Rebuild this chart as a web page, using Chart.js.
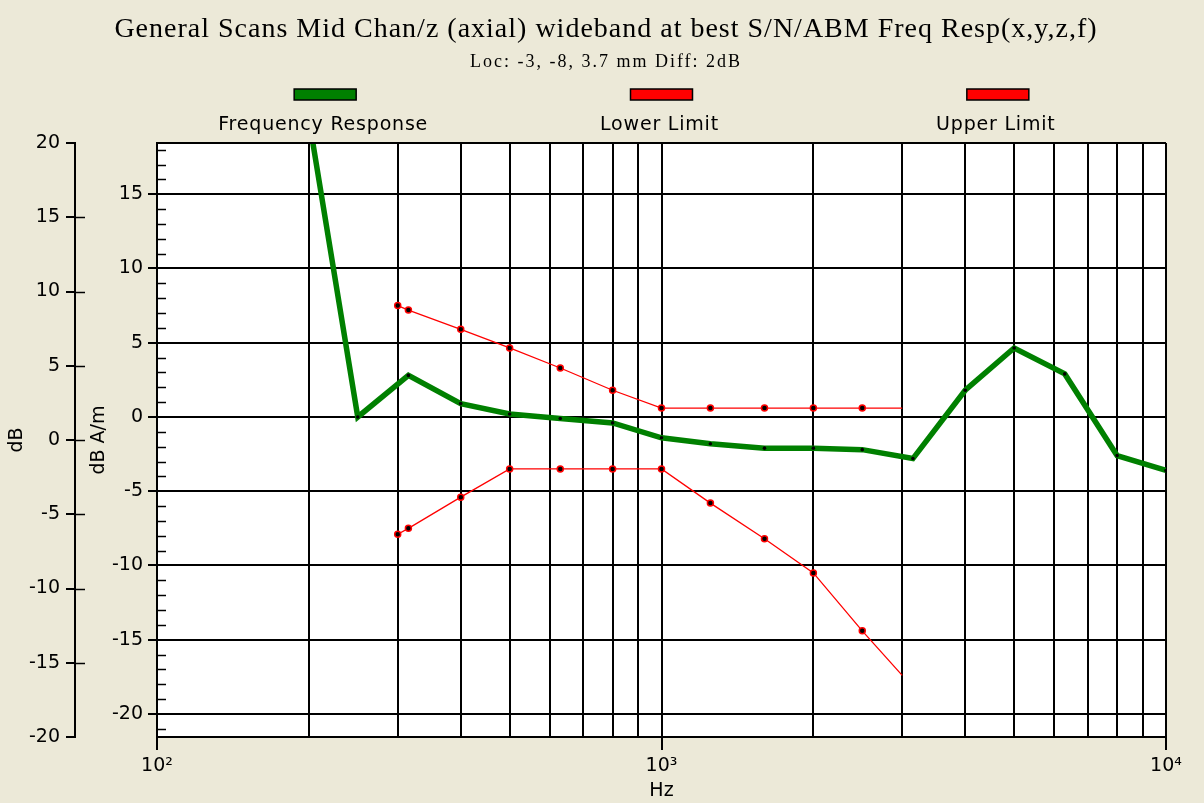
<!DOCTYPE html>
<html>
<head>
<meta charset="utf-8">
<title>Freq Resp</title>
<script src="https://cdn.jsdelivr.net/npm/chart.js@4.4.0/dist/chart.umd.min.js"></script>
<style>
    body { margin: 0; background: #ECE9D8; }
    #box { width: 1204px; height: 803px; }
</style>
</head>
<body>
<div id="box"><canvas id="graficoResp"></canvas></div>
<script>
// frequency response, measured points (Hz / dB A/m)
const respFreq = [200, 250, 315, 400, 500, 630, 800, 1000, 1250, 1600, 2000, 2500, 3150, 4000, 5000, 6300, 8000, 10000];
const respDb = [20.1, 0.0, 2.8, 0.9, 0.2, -0.1, -0.4, -1.4, -1.8, -2.1, -2.1, -2.2, -2.8, 1.8, 4.65, 2.9, -2.6, -3.6];

// limit lines
const limitFreq = [300, 315, 400, 500, 630, 800, 1000, 1250, 1600, 2000, 2500, 3000];
const lowerDb = [-7.9, -7.5, -5.4, -3.5, -3.5, -3.5, -3.5, -5.8, -8.2, -10.5, -14.4, -17.4];
const upperDb = [7.5, 7.2, 5.9, 4.65, 3.3, 1.8, 0.6, 0.6, 0.6, 0.6, 0.6, 0.6];

// axis ticks
const freqTicks = [100, 200, 300, 400, 500, 600, 700, 800, 900, 1000, 2000, 3000, 4000, 5000, 6000, 7000, 8000, 9000, 10000];
const dbTicks = [-20, -15, -10, -5, 0, 5, 10, 15, 20];
const decadeLabels = { 100: '10²', 1000: '10³', 10000: '10⁴' };

const titulo = 'General Scans Mid Chan/z (axial) wideband at best S/N/ABM Freq Resp(x,y,z,f)';
const subtitulo = 'Loc: -3, -8, 3.7 mm Diff: 2dB';

const sans = 'DejaVu Sans';

function pontos(xs, ys) {
    let lista = [];
    for (let i = 0; i < xs.length; i++) {
        lista.push({ x: xs[i], y: ys[i] });
    }
    return lista;
}

function ehDecada(v) {
    return decadeLabels[v] !== undefined;
}

// no marker on the last point of a limit line
const limitRadius = limitFreq.map((f, i) => i == limitFreq.length - 1 ? 0 : 3);

// background, titles, extra ticks, frame and the legend
const extras = {
    id: 'extras',
    beforeDraw(chart) {
        const ctx = chart.ctx;
        const a = chart.chartArea;
        ctx.save();
        ctx.fillStyle = '#ECE9D8';
        ctx.fillRect(0, 0, chart.width, chart.height);
        ctx.fillStyle = '#ffffff';
        ctx.fillRect(a.left, a.top, a.right - a.left, a.bottom - a.top);
        ctx.restore();
    },
    afterDraw(chart) {
        const ctx = chart.ctx;
        const a = chart.chartArea;
        const yIn = chart.scales.y;
        const yOut = chart.scales.y2;
        ctx.save();
        ctx.strokeStyle = '#000';
        ctx.lineWidth = 2;

        // top frame line
        ctx.beginPath();
        ctx.moveTo(a.left, a.top);
        ctx.lineTo(a.right, a.top);
        ctx.stroke();

        // minor ticks of dB A/m go inside the plot
        ctx.lineWidth = 1.5;
        yIn.ticks.forEach(t => {
            if (t.value % 5 != 0) {
                const py = Math.round(yIn.getPixelForValue(t.value)) + 0.5;
                ctx.beginPath();
                ctx.moveTo(a.left, py);
                ctx.lineTo(a.left + 9, py);
                ctx.stroke();
            }
        });

        // dB ticks cross the axis line
        yOut.ticks.forEach(t => {
            if (t.value > yOut.min && t.value < yOut.max) {
                const py = Math.round(yOut.getPixelForValue(t.value)) + 0.5;
                ctx.beginPath();
                ctx.moveTo(yOut.right, py);
                ctx.lineTo(yOut.right + 10, py);
                ctx.stroke();
            }
        });

        // titles
        ctx.fillStyle = '#000';
        ctx.textAlign = 'center';
        ctx.textBaseline = 'middle';
        ctx.font = '28px "Liberation Serif"';
        ctx.letterSpacing = '1px';
        ctx.fillText(titulo, 606, 30);
        ctx.font = '18px "Liberation Serif"';
        ctx.letterSpacing = '2px';
        ctx.fillText(subtitulo, 606, 62);

        // legend: swatch above the label
        const largura = (a.right - a.left) / 3;
        ctx.font = '19px "' + sans + '"';
        ctx.letterSpacing = '0.8px';
        chart.data.datasets.forEach((ds, i) => {
            const cx = a.left + largura * (i + 0.5);
            ctx.fillStyle = ds.borderColor;
            ctx.fillRect(cx - 31, 89, 62, 11);
            ctx.lineWidth = 1.5;
            ctx.strokeStyle = '#000';
            ctx.strokeRect(cx - 31, 89, 62, 11);
            ctx.fillStyle = '#000';
            ctx.fillText(ds.label, cx - 2, 125);
        });
        ctx.restore();
    }
};

Chart.defaults.color = '#000';
Chart.defaults.font.family = sans;

const config = {
    type: 'line',
    data: {
        datasets: [{
            label: 'Frequency Response',
            data: pontos(respFreq, respDb),
            borderColor: '#008000',
            borderWidth: 5.5,
            pointRadius: 1.8,
            pointBackgroundColor: '#000',
            pointBorderWidth: 0,
            clip: 0,
            order: 0
        },
        {
            label: 'Lower Limit',
            data: pontos(limitFreq, lowerDb),
            borderColor: '#ff0000',
            borderWidth: 1.3,
            pointRadius: limitRadius,
            pointBackgroundColor: '#000',
            pointBorderColor: '#ff0000',
            pointBorderWidth: 1.5,
            clip: 0,
            order: 1
        },
        {
            label: 'Upper Limit',
            data: pontos(limitFreq, upperDb),
            borderColor: '#ff0000',
            borderWidth: 1.3,
            pointRadius: limitRadius,
            pointBackgroundColor: '#000',
            pointBorderColor: '#ff0000',
            pointBorderWidth: 1.5,
            clip: 0,
            order: 1
        }]
    },
    options: {
        responsive: true,
        maintainAspectRatio: false,
        animation: false,
        layout: { padding: { left: 0, right: 38, top: 143, bottom: 0 } },
        elements: { line: { tension: 0 } },
        scales: {
            x: {
                type: 'logarithmic',
                position: 'bottom',
                min: 100,
                max: 10000,
                afterBuildTicks: (scale) => {
                    scale.ticks = freqTicks.map(v => ({ value: v }));
                },
                afterFit: (scale) => { scale.height = 66; },
                ticks: {
                    autoSkip: false,
                    maxRotation: 0,
                    padding: 5,
                    font: { size: 19 },
                    callback: (v) => ehDecada(v) ? decadeLabels[v] : ''
                },
                grid: {
                    color: '#000',
                    lineWidth: 2,
                    tickLength: 13,
                    tickColor: (c) => (c.tick && ehDecada(c.tick.value)) ? '#000' : 'rgba(0,0,0,0)'
                },
                border: { color: '#000', width: 2 },
                title: { display: true, text: 'Hz', font: { size: 19 }, padding: { top: 0, bottom: 1 } }
            },
            y: {
                position: 'left',
                weight: 0,
                min: -21.55,
                max: 18.45,
                afterBuildTicks: (scale) => {
                    let lista = [];
                    for (let v = -21; v <= 18; v++) lista.push({ value: v });
                    scale.ticks = lista;
                },
                afterFit: (scale) => { scale.width = 82; },
                ticks: {
                    autoSkip: false,
                    padding: 5,
                    font: { size: 19 },
                    callback: (v) => v % 5 == 0 ? v : ''
                },
                grid: {
                    color: (c) => (c.tick && c.tick.value % 5 == 0) ? '#000' : 'rgba(0,0,0,0)',
                    lineWidth: 2,
                    tickLength: 9
                },
                border: { color: '#000', width: 2 },
                title: { display: true, text: 'dB A/m', font: { size: 19 }, padding: { top: 13, bottom: 0 } }
            },
            y2: {
                position: 'left',
                weight: 1,
                min: -20,
                max: 20,
                afterBuildTicks: (scale) => {
                    scale.ticks = dbTicks.map(v => ({ value: v }));
                },
                afterFit: (scale) => { scale.width = 75; },
                ticks: {
                    autoSkip: false,
                    padding: 6,
                    font: { size: 19 }
                },
                grid: {
                    drawOnChartArea: false,
                    color: '#000',
                    lineWidth: 2,
                    tickLength: 9
                },
                border: { color: '#000', width: 2 },
                title: { display: true, text: 'dB', font: { size: 19 }, padding: { top: 6, bottom: 0 } }
            }
        },
        plugins: {
            legend: { display: false },
            tooltip: { enabled: false },
            title: { display: false },
            subtitle: { display: false }
        }
    },
    plugins: [extras]
};

let graficoResp = new Chart(document.getElementById('graficoResp'), config);
</script>
</body>
</html>
